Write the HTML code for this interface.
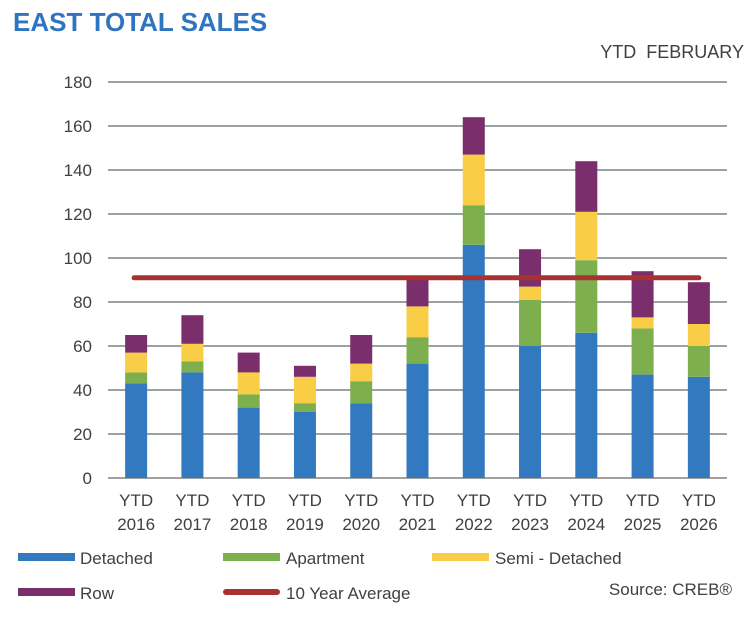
<!DOCTYPE html>
<html><head><meta charset="utf-8"><style>
body{margin:0;background:#fff;width:752px;height:634px;overflow:hidden;font-family:"Liberation Sans",sans-serif;}
</style></head><body>
<svg width="752" height="634" xmlns="http://www.w3.org/2000/svg" font-family="Liberation Sans, sans-serif">
<text x="13" y="31" font-size="26" font-weight="bold" fill="#2e74c0">EAST TOTAL SALES</text>
<text x="744" y="58" font-size="18" fill="#404040" text-anchor="end" xml:space="preserve" style="white-space:pre">YTD  FEBRUARY</text>
<g id="grid"></g><g id="bars"></g><g id="axes"></g>
<g font-size="17" fill="#404040">
<rect x="18" y="553" width="57" height="8" fill="#3279bf"/><text x="80" y="564">Detached</text>
<rect x="223" y="553" width="57" height="8" fill="#7daf4f"/><text x="286" y="564">Apartment</text>
<rect x="432" y="553" width="57" height="8" fill="#f9cd45"/><text x="495" y="564">Semi - Detached</text>
<rect x="18" y="588" width="57" height="8" fill="#7a2e6b"/><text x="80" y="599">Row</text>
<rect x="223" y="589" width="57" height="6" rx="3" fill="#a83232"/><text x="286" y="599">10 Year Average</text>
</g>
<text x="732" y="595" font-size="17" fill="#404040" text-anchor="end">Source: CREB®</text>
</svg>
<script>
const years=["2016","2017","2018","2019","2020","2021","2022","2023","2024","2025","2026"];
const detached=[43,48,32,30,34,52,106,60,66,47,46];
const apartment=[5,5,6,4,10,12,18,21,33,21,14];
const semi=[9,8,10,12,8,14,23,6,22,5,10];
const row=[8,13,9,5,13,12,17,17,23,21,19];
const average=91;
const yTicks=[0,20,40,60,80,100,120,140,160,180];
const NS="http://www.w3.org/2000/svg";
const x0=108,x1=727,y0=478,yMax=180,yTop=82;
const y=v=>y0-(v/yMax)*(y0-yTop);
const band=(x1-x0)/years.length;
const cx=i=>x0+band*(i+0.5);
function mk(t,a,p){const e=document.createElementNS(NS,t);for(const k in a)e.setAttribute(k,a[k]);p.appendChild(e);return e;}
const grid=document.getElementById('grid'),bars=document.getElementById('bars'),axes=document.getElementById('axes');
yTicks.forEach(v=>{
 const l=mk('line',{x1:x0,x2:x1,y1:y(v),y2:y(v),stroke:v===0?'#a0a0a0':'#5f6b6b','stroke-width':v===0?2:1.3},grid);
 
 
 const t=mk('text',{x:92,y:y(v)+6,'text-anchor':'end','font-size':17,fill:'#404040'},axes);
 t.textContent=v;
 
 
});
const series=[[detached,'#3279bf','detached'],[apartment,'#7daf4f','apartment'],[semi,'#f9cd45','semi-detached'],[row,'#7a2e6b','row']];
years.forEach((yr,i)=>{
 let base=0;
 series.forEach(([arr,c,n])=>{
  const v=arr[i];
  const r=mk('rect',{x:cx(i)-11,width:22,y:y(base+v),height:y(base)-y(base+v),fill:c},bars);
  
  
  base+=v;
 });
 const t1=mk('text',{x:cx(i),y:506,'text-anchor':'middle','font-size':17,fill:'#404040'},axes);t1.textContent='YTD';
 
 
 const t2=mk('text',{x:cx(i),y:530,'text-anchor':'middle','font-size':17,fill:'#404040'},axes);t2.textContent=yr;
 
 
});
const al=mk('line',{x1:cx(0)-2,x2:cx(years.length-1),y1:y(average),y2:y(average),stroke:'#a83232','stroke-width':5,'stroke-linecap':'round'},bars);


</script>
</body></html>
